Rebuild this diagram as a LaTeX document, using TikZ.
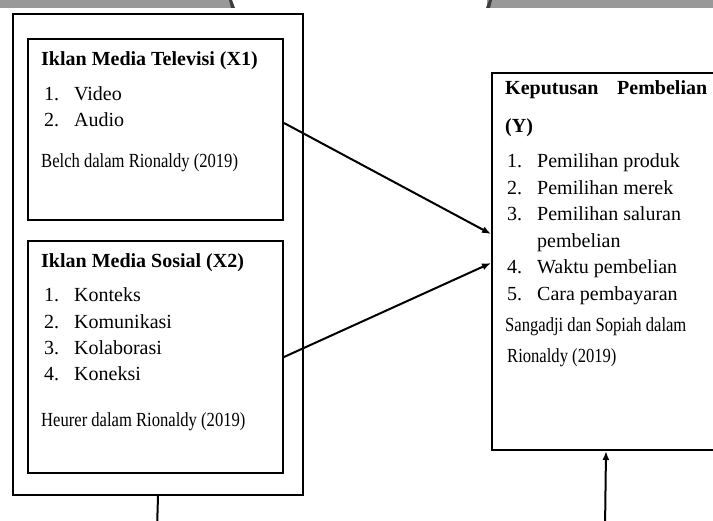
\documentclass[tikz,border=0pt]{standalone}
\usepackage{fontspec}
\setmainfont{Liberation Serif}
\usetikzlibrary{arrows.meta}

\definecolor{pagegray}{RGB}{153,153,153}
\newcommand{\narrow}[1]{\scalebox{0.83}[1]{#1}}
\newcommand{\itemno}[1]{\makebox[30pt][l]{#1.}}

\begin{document}
\begin{tikzpicture}[x=1pt,y=-1pt,
  box/.style={draw,line width=2pt,anchor=north west,inner sep=0pt},
  txt/.style={anchor=base west,inner sep=0pt,font=\fontsize{20}{24}\selectfont},
  title/.style={txt,font=\fontsize{20}{24}\selectfont\bfseries},
  link/.style={line width=2pt,-{Latex[length=9pt,width=7pt]}}]
\useasboundingbox (0,0) rectangle (713,521);
\clip (0,0) rectangle (713,521);

% edges of the page above
\fill[pagegray] (0,0) rectangle (232,8);
\fill[pagegray!40!black] (229,0) -- (232,0) -- (235,8) -- (231,8) -- cycle;
\fill[pagegray] (487,0) rectangle (713,8);
\fill[pagegray!40!black] (489,0) -- (492,0) -- (490,8) -- (486,8) -- cycle;

% boxes
\node[box,minimum width=290pt,minimum height=481pt] (outer) at (12,13) {};
\node[box,minimum width=255pt,minimum height=181pt] (x1) at (27,38) {};
\node[box,minimum width=255pt,minimum height=232pt] (x2) at (27,240) {};
\node[box,minimum width=228pt,minimum height=377pt] (y) at (491,72) {};

% X1
\node[title] (x1t) at (41,66) {Iklan Media Televisi (X1)};
\foreach \t [count=\i] in {Video,Audio}
  \node[txt] (x1i\i) at (44,{100.7+26*(\i-1)}) {\itemno{\i}\t};
\node[txt] (x1s) at (41,168) {\narrow{Belch dalam Rionaldy (2019)}};

% X2
\node[title] (x2t) at (41,268) {Iklan Media Sosial (X2)};
\foreach \t [count=\i] in {Konteks,Komunikasi,Kolaborasi,Koneksi}
  \node[txt] (x2i\i) at (44,{302+26.2*(\i-1)}) {\itemno{\i}\t};
\node[txt] (x2s) at (41,427) {\narrow{Heurer dalam Rionaldy (2019)}};

% Y
\node[title] (yt) at (505,95) {\makebox[202pt][l]{Keputusan\hfill Pembelian}};
\node[title] (yt2) at (505,133) {(Y)};
\foreach \t/\yy [count=\i] in {Pemilihan produk/168,Pemilihan merek/194.5,
    Pemilihan saluran/221,Waktu pembelian/274,Cara pembayaran/300.5}
  \node[txt] (yi\i) at (507,\yy) {\itemno{\i}\t};
\node[txt] (yi3b) at (537,247.5) {pembelian};
\node[txt] (ys) at (505,331.7) {\narrow{Sangadji dan Sopiah dalam}};
\node[txt] (ys2) at (507,363) {\narrow{Rionaldy (2019)}};

% connectors
\draw[link] ([yshift=6.5pt]x1.east) -- ([yshift=27.5pt]y.west);
\draw[link] (x2.east) -- ([yshift=-1.5pt]y.west);
\coordinate (obot) at (157,530);
\coordinate (ybot) at (605,530);
\draw[line width=2pt] (outer.south) -- (obot);
\draw[link] (ybot) -- (y.south);
\end{tikzpicture}
\end{document}
